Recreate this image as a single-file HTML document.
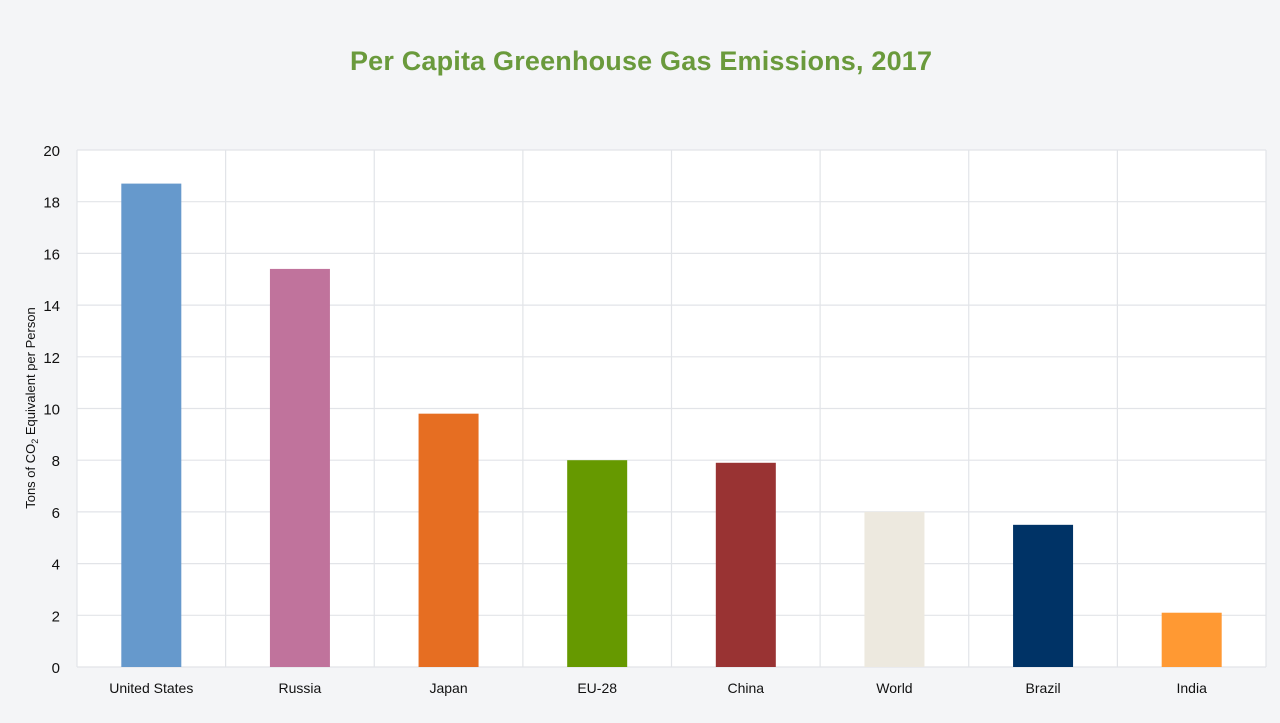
<!DOCTYPE html>
<html><head><meta charset="utf-8"><style>
body{margin:0;background:#f4f5f7;font-family:"Liberation Sans",sans-serif;}
svg{display:block}
</style></head><body>
<svg width="1280" height="723">
<text x="641" y="70" text-anchor="middle" font-size="27" font-weight="bold" fill="#6a9a3c" textLength="582">Per Capita Greenhouse Gas Emissions, 2017</text>
<rect x="77" y="150" width="1189" height="517" fill="#fff"/>
<g id="grid"></g><g id="bars"></g><g id="labels"></g>
<text transform="translate(35,408) rotate(-90)" text-anchor="middle" font-size="13" fill="#111">Tons of CO<tspan font-size="9" dy="3">2</tspan><tspan dy="-3"> Equivalent per Person</tspan></text>
</svg>
<script>
const categories=["United States","Russia","Japan","EU-28","China","World","Brazil","India"];
const values=[18.7,15.4,9.8,8.0,7.9,6.0,5.5,2.1];
const colors=["#6699cc","#c0739c","#e66e22","#669900","#993333","#ede9df","#003366","#ff9933"];
const ticks=[0,2,4,6,8,10,12,14,16,18,20];
const X0=77,X1=1266,Y0=667,Y1=150,NS="http://www.w3.org/2000/svg";
const y=v=>Y0-(v/20)*(Y0-Y1);
const cw=(X1-X0)/categories.length;
const g=document.getElementById('grid'),b=document.getElementById('bars'),l=document.getElementById('labels');
function mk(t,a,p){const e=document.createElementNS(NS,t);for(const k in a)e.setAttribute(k,a[k]);p.appendChild(e);return e;}
ticks.forEach(t=>{
 const ln=mk('line',{x1:X0,x2:X1,y1:y(t),y2:y(t),stroke:'#e2e4e8','stroke-width':1.2},g);
 
 
 const tx=mk('text',{x:60,y:y(t)+6,'text-anchor':'end','font-size':15,fill:'#111'},l);
 tx.textContent=t;
 
 
});
for(let i=0;i<=categories.length;i++){
 const ln=mk('line',{x1:X0+i*cw,x2:X0+i*cw,y1:Y1,y2:Y0,stroke:'#e2e4e8','stroke-width':1.2},g);
 
 
}
categories.forEach((c,i)=>{
 const cx=X0+cw*(i+0.5);
 const r=mk('rect',{x:cx-30,y:y(values[i]),width:60,height:Y0-y(values[i]),fill:colors[i]},b);
 
 
 const tx=mk('text',{x:cx,y:693,'text-anchor':'middle','font-size':14,fill:'#111'},l);
 tx.textContent=c;
 
 
});
</script>
</body></html>
